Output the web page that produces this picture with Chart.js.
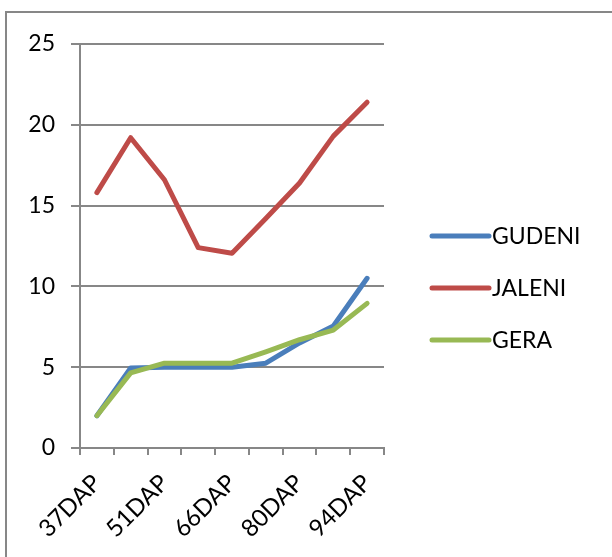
<!DOCTYPE html>
<html>
<head>
<meta charset="utf-8">
<title>DAP chart</title>
<script src="https://cdn.jsdelivr.net/npm/chart.js@4"></script>
<style>
  html, body { margin: 0; padding: 0; background: #fff; }
  canvas { display: block; }
</style>
</head>
<body>
<canvas id="dapChart" width="612" height="557"></canvas>
<script>
// data
const categories = ['37DAP', '44DAP', '51DAP', '58DAP', '66DAP', '73DAP', '80DAP', '87DAP', '94DAP'];
const gudeni = [2.0, 4.95, 5.0, 5.0, 5.0, 5.25, 6.5, 7.55, 10.5];
const jaleni = [15.8, 19.2, 16.6, 12.4, 12.05, 14.2, 16.4, 19.3, 21.4];
const gera = [2.0, 4.65, 5.25, 5.25, 5.25, 5.95, 6.7, 7.3, 8.95];
const yTicks = [0, 5, 10, 15, 20, 25];

const gridGray = '#878787';
const fontFamily = "Lato, 'Open Sans', sans-serif";

// frame around the chart + legend on the right
const frameAndLegend = {
    id: 'frameAndLegend',
    afterDraw(chart) {
        const ctx = chart.ctx;
        ctx.save();
        ctx.strokeStyle = gridGray;
        ctx.lineWidth = 2;
        ctx.strokeRect(6, 12, 700, 700);

        const rows = [236, 288, 340];
        chart.data.datasets.forEach((ds, i) => {
            const y = rows[i];
            ctx.strokeStyle = ds.borderColor;
            ctx.lineWidth = 5;
            ctx.lineCap = 'round';
            ctx.beginPath();
            ctx.moveTo(432, y);
            ctx.lineTo(489, y);
            ctx.stroke();
            ctx.fillStyle = '#000';
            ctx.font = '23px ' + fontFamily;
            ctx.textBaseline = 'middle';
            ctx.fillText(ds.label, 492, y + 1);
        });
        ctx.restore();
    }
};

const ctx = document.getElementById('dapChart').getContext('2d');

new Chart(ctx, {
    type: 'line',
    data: {
        labels: categories,
        datasets: [
            { label: 'GUDENI', data: gudeni, borderColor: '#4a7ebb', order: 2 },
            { label: 'JALENI', data: jaleni, borderColor: '#be4b48', order: 1 },
            { label: 'GERA', data: gera, borderColor: '#98b954', order: 0 }
        ]
    },
    options: {
        responsive: false,
        animation: false,
        layout: { padding: { top: 44, right: 228, left: 0, bottom: 0 } },
        elements: {
            point: { radius: 0 },
            line: { borderWidth: 5, tension: 0, borderCapStyle: 'round', borderJoinStyle: 'round' }
        },
        plugins: {
            legend: { display: false },
            tooltip: { enabled: false }
        },
        scales: {
            x: {
                offset: true,
                afterFit: (scale) => { scale.height = 109; },
                grid: {
                    offset: true,
                    drawOnChartArea: false,
                    drawTicks: true,
                    tickLength: 7,
                    color: gridGray,
                    lineWidth: 2
                },
                border: { color: gridGray, width: 2 },
                ticks: {
                    autoSkip: false,
                    minRotation: 45,
                    maxRotation: 45,
                    padding: 14,
                    color: '#000',
                    font: { family: fontFamily, size: 24 },
                    callback: function (value, index) {
                        // every other label, like the original
                        return index % 2 === 0 ? this.getLabelForValue(value) : '';
                    }
                }
            },
            y: {
                min: 0,
                max: 25,
                afterFit: (scale) => { scale.width = 80; },
                afterBuildTicks: (scale) => { scale.ticks = yTicks.map(v => ({ value: v })); },
                grid: {
                    color: gridGray,
                    lineWidth: 2,
                    drawTicks: true,
                    tickLength: 9
                },
                border: { color: gridGray, width: 2 },
                ticks: {
                    padding: 16,
                    color: '#000',
                    font: { family: fontFamily, size: 23 }
                }
            }
        }
    },
    plugins: [frameAndLegend]
});
</script>
</body>
</html>
